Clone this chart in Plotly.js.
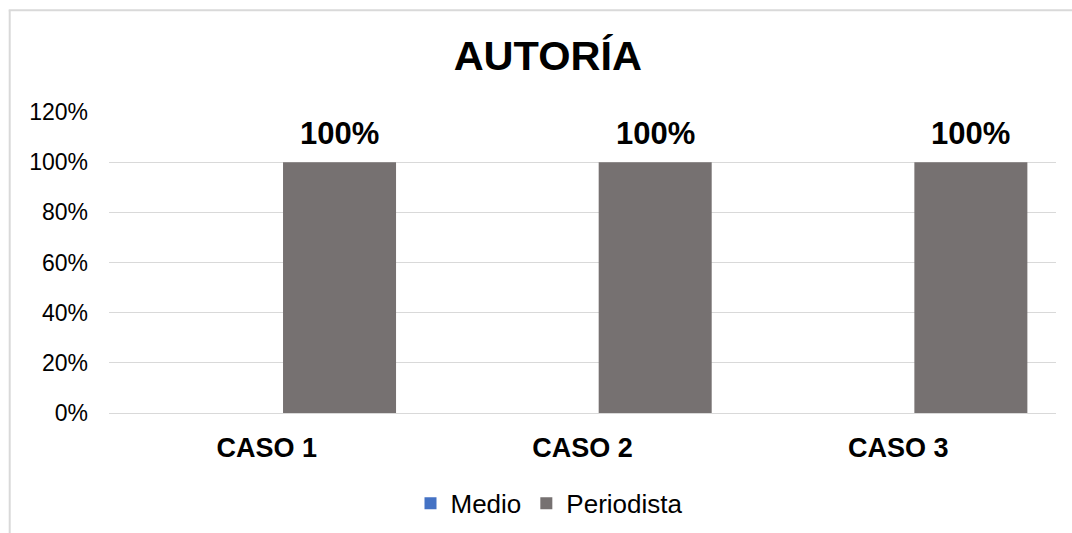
<!DOCTYPE html>
<html>
<head>
<meta charset="utf-8">
<script src="https://cdn.plot.ly/plotly-3.0.1.min.js"></script>
<style>
html,body{margin:0;padding:0;background:#fff;overflow:hidden;}
#chart{width:1072px;height:533px;}
</style>
</head>
<body>
<div id="chart"></div>
<script>
const categories = ["CASO 1", "CASO 2", "CASO 3"];
const seriesNames = ["Medio", "Periodista"];
const medio = [0, 0, 0];
const periodista = [1, 1, 1];
const yTickValues = [0, 0.2, 0.4, 0.6, 0.8, 1.0, 1.2];
const chartTitle = "AUTORÍA";

const FONT = "Liberation Sans, Arial, sans-serif";
const barW = 0.358;
const gapHalf = 0.0513;

const traces = [
  {
    type: "bar",
    name: seriesNames[0],
    x: categories,
    y: medio,
    width: barW,
    offset: -gapHalf - barW,
    marker: {color: "#4472C4"},
    hoverinfo: "x+y+name"
  },
  {
    type: "bar",
    name: seriesNames[1],
    x: categories,
    y: periodista,
    width: barW,
    offset: gapHalf,
    marker: {color: "#767171"},
    hoverinfo: "x+y+name"
  }
];

// data labels for the Periodista series, placed through the category axis
const labelAnnotations = periodista.map((v, i) => ({
  xref: "x", yref: "y",
  x: i + gapHalf + barW / 2,
  y: v,
  text: Math.round(v * 100) + "%",
  showarrow: false,
  xanchor: "center",
  yanchor: "bottom",
  yshift: 9,
  font: {family: FONT, size: 31, color: "#000", weight: "bold"}
}));

// plot area geometry (pixels) for the frame shapes
const L = 109, R = 16, T = 112, B = 119.5;
const W = 1072 - L - R, H = 533 - T - B;
const px2x = p => (p - L) / W;
const py2y = p => (533 - B - p) / H;

const layout = {
  width: 1072,
  height: 533,
  margin: {l: L, r: R, t: T, b: B, pad: 0, autoexpand: false},
  paper_bgcolor: "#fff",
  plot_bgcolor: "#fff",
  font: {family: FONT, color: "#000"},
  title: {
    text: chartTitle,
    font: {family: FONT, size: 41.5, color: "#000", weight: "bold"},
    x: 0.511, xanchor: "center", xref: "container",
    y: 1 - 55 / 533, yanchor: "middle", yref: "container"
  },
  barmode: "group",
  showlegend: true,
  legend: {
    orientation: "h",
    x: px2x(549), xanchor: "center",
    y: py2y(504), yanchor: "middle",
    font: {family: FONT, size: 26, color: "#000"},
    bgcolor: "rgba(0,0,0,0)"
  },
  annotations: labelAnnotations,
  xaxis: {
    type: "category",
    categoryorder: "array",
    categoryarray: categories,
    showgrid: false,
    showline: false,
    zeroline: false,
    ticks: "",
    ticklabelstandoff: 16,
    tickfont: {family: FONT, size: 27, color: "#000", weight: "bold"},
    automargin: false,
    fixedrange: true
  },
  yaxis: {
    range: [0, 1.2],
    tickvals: yTickValues,
    tickformat: ".0%",
    showgrid: true,
    gridcolor: "#d9d9d9",
    gridwidth: 1,
    zeroline: true,
    zerolinecolor: "#d9d9d9",
    zerolinewidth: 1,
    showline: false,
    ticks: "",
    ticklabelstandoff: 20,
    tickfont: {family: FONT, size: 23, color: "#000"},
    automargin: false,
    fixedrange: true
  },
  shapes: [
    {type: "line", xref: "paper", yref: "paper",
     x0: px2x(9.7), x1: px2x(9.7), y0: py2y(10), y1: py2y(560),
     line: {color: "#d9d9d9", width: 2}},
    {type: "line", xref: "paper", yref: "paper",
     x0: px2x(8.7), x1: px2x(1100), y0: py2y(10), y1: py2y(10),
     line: {color: "#d9d9d9", width: 2}}
  ]
};

Plotly.newPlot("chart", traces, layout, {displayModeBar: false});
</script>
</body>
</html>
